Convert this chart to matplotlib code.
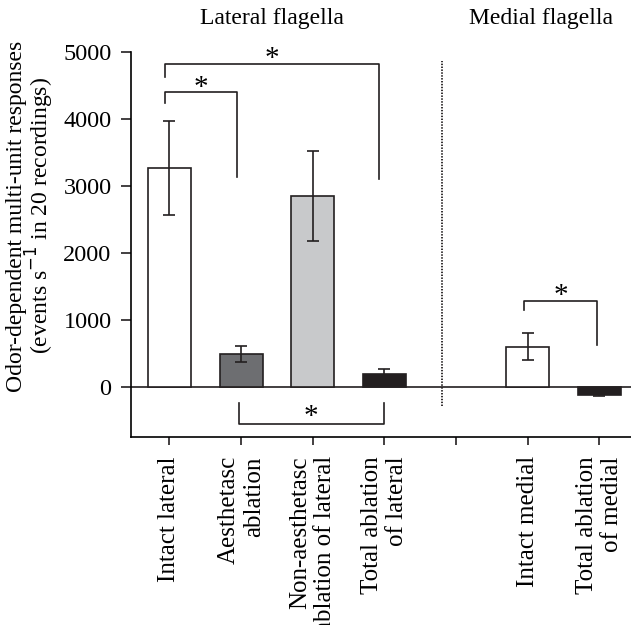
import numpy as np
import matplotlib
matplotlib.use("Agg")
import matplotlib.pyplot as plt
from matplotlib.transforms import blended_transform_factory

plt.rcParams['font.family'] = ['Liberation Serif', 'DejaVu Serif']

# data
labels = ['Intact lateral', 'Aesthetasc\nablation', 'Non-aesthetasc\nablation of lateral',
          'Total ablation\nof lateral', '', 'Intact medial', 'Total ablation\nof medial']
positions = [0, 1, 2, 3, 5, 6]
means = [3260, 490, 2845, 190, 595, -120]
err_low = [2560, 370, 2170, 120, 395, -145]
err_high = [3970, 605, 3515, 260, 800, -95]
colors = ['white', '#6d6e71', '#c8c9cb', '#231f20', 'white', '#231f20']

# significance brackets: (x_left, x_right, y_top, left_bottom, right_bottom)
brackets = [(-0.06, 0.95, 4400, 4235, 3125),
            (-0.06, 2.93, 4825, 4620, 3105),
            (4.95, 5.97, 1285, 1145, 620)]
low_bracket = (0.97, 2.99, -560, -245)

fig = plt.figure(figsize=(6.31, 6.25), dpi=100)
ax = fig.add_axes([0.2076, 0.3013, 0.7924, 0.6155])

lower = [m - lo for m, lo in zip(means, err_low)]
upper = [hi - m for m, hi in zip(means, err_high)]
ax.bar(positions, means, width=0.6, color=colors, edgecolor='#231f20', linewidth=1.2, zorder=2)
ax.errorbar(positions, means, yerr=[lower, upper], fmt='none', ecolor='#231f20',
            elinewidth=1.2, capsize=4.5, capthick=1.2, zorder=3)

ax.axhline(0, color='#231f20', lw=1.2, zorder=1)
ax.plot([3.81, 3.81], [-290, 4860], color='#231f20', lw=1.3, ls=(0, (0.8, 0.8)))

for xl, xr, yt, yl, yr in brackets:
    ax.plot([xl, xl, xr, xr], [yl, yt, yt, yr], color='#231f20', lw=1.2)
    ax.text((xl + xr) / 2, yt - 125, '*', ha='center', va='bottom', fontsize=21)
xl, xr, yb, yt = low_bracket
ax.plot([xl, xl, xr, xr], [yt, yb, yb, yt], color='#231f20', lw=1.2)
ax.text((xl + xr) / 2, -650, '*', ha='center', va='bottom', fontsize=21)

ax.set_xlim(-0.535, 6.44)
ax.set_ylim(-750, 5000)
ax.set_yticks([0, 1000, 2000, 3000, 4000, 5000])
ax.set_xticks(range(7))
ax.set_xticklabels(labels, rotation=90, fontsize=18)
for t in ax.get_xticklabels():
    t.set_multialignment('right')
ax.tick_params(axis='y', labelsize=17.5, length=7, width=1.2, color='#231f20', pad=7)
ax.tick_params(axis='x', length=6, width=1.2, color='#231f20', pad=8)

ax.spines['top'].set_visible(False)
ax.spines['right'].set_visible(False)
ax.spines['left'].set_linewidth(1.2)
ax.spines['bottom'].set_linewidth(1.2)

fig.text(31 / 631, 1 - 216 / 625,
         'Odor-dependent multi-unit responses\n(events s$^{-1}$ in 20 recordings)',
         rotation=90, ha='center', va='center', fontsize=17, linespacing=0.85)

tr = blended_transform_factory(ax.transData, fig.transFigure)
ax.text(1.43, 0.97, 'Lateral flagella', transform=tr, ha='center', va='center', fontsize=17)
ax.text(5.19, 0.97, 'Medial flagella', transform=tr, ha='center', va='center', fontsize=17)

fig.savefig('out.png', dpi=100)
